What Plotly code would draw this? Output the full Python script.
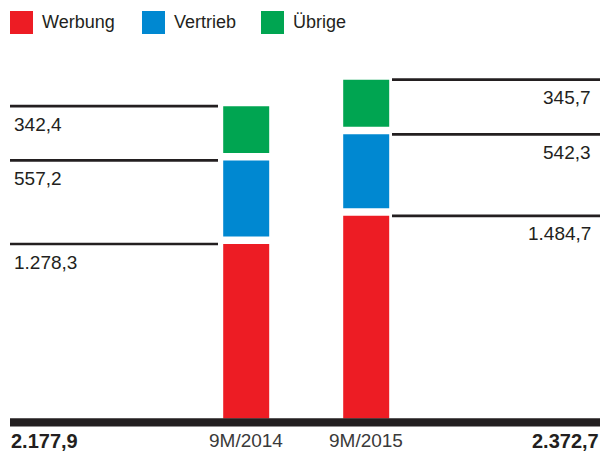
import plotly.graph_objects as go

# ---- data ----
categories = ["9M/2014", "9M/2015"]
series_names = ["Werbung", "Vertrieb", "Übrige"]
werbung = [1278.3, 1484.7]
vertrieb = [557.2, 542.3]
uebrige = [342.4, 345.7]

# ---- styles ----
colors = ["#ed1c24", "#0088d1", "#00a551"]
ink = "#231f20"
FONT = "Liberation Sans"
W, H = 604, 452
BASE_PX = 418.5      # pixel row of value 0
SCALE = 0.1365       # px per unit
GAP_PX = 7.5         # white gap between stacked segments
CAT0_PX, CAT_STEP = 246.2, 120.0
BAR_PX = 46.0

gap = GAP_PX / SCALE
y_range = [(BASE_PX - H) / SCALE, BASE_PX / SCALE]
x_range = [-CAT0_PX / CAT_STEP, (W - CAT0_PX) / CAT_STEP]


def de(v):
    s = f"{v:,.1f}"
    return s.replace(",", "X").replace(".", ",").replace("X", ".")


series = [werbung, vertrieb, uebrige]
fig = go.Figure()
tops = []
for i, (vals, name, col) in enumerate(zip(series, series_names, colors)):
    base = [sum(series[k][j] for k in range(i)) + i * gap for j in range(len(categories))]
    tops.append([b + v for b, v in zip(base, vals)])
    fig.add_trace(go.Bar(x=categories, y=vals, base=base, name=name,
                         width=BAR_PX / CAT_STEP,
                         marker=dict(color=col, line=dict(width=0)),
                         showlegend=False, hoverinfo="skip"))

shapes = []
annotations = []

# value lines and labels
line_x = [(10 / W, 218 / W), (392 / W, 600 / W)]
label_x = [(12 / W, "left"), (593 / W, "right")]
for i, vals in enumerate(series):
    for j in range(len(categories)):
        t = tops[i][j]
        shapes.append(dict(type="line", xref="paper", yref="y",
                           x0=line_x[j][0], x1=line_x[j][1], y0=t, y1=t,
                           line=dict(color=ink, width=2.7)))
        annotations.append(dict(xref="paper", yref="y", x=label_x[j][0], y=t,
                                xanchor=label_x[j][1], yanchor="middle", yshift=-18,
                                text=de(vals[j]), showarrow=False,
                                font=dict(family=FONT, size=19, color=ink)))

# baseline
shapes.append(dict(type="rect", xref="paper", yref="y", x0=10 / W, x1=600 / W,
                   y0=(BASE_PX - 418.3) / SCALE, y1=(BASE_PX - 426.5) / SCALE,
                   fillcolor=ink, line=dict(width=0)))

# category labels
ylab = 1 - 440.5 / H
for j, c in enumerate(categories):
    annotations.append(dict(xref="x", yref="paper", x=j, y=ylab, xanchor="center",
                            yanchor="middle", text=c, showarrow=False, borderpad=0,
                            font=dict(family=FONT, size=19, color="#3a3a3a")))

# totals
totals = [sum(s[j] for s in series) for j in range(len(categories))]
annotations.append(dict(xref="paper", yref="paper", x=10 / W, y=ylab, xanchor="left",
                        yanchor="middle", text="<b>" + de(totals[0]) + "</b>", showarrow=False,
                        borderpad=0, font=dict(family=FONT, size=20, color=ink)))
annotations.append(dict(xref="paper", yref="paper", x=600 / W, y=ylab, xanchor="right",
                        yanchor="middle", text="<b>" + de(totals[1]) + "</b>", showarrow=False,
                        borderpad=0, font=dict(family=FONT, size=20, color=ink)))

# legend
leg_x = [10, 142, 261]
for name, col, lx in zip(series_names, colors, leg_x):
    shapes.append(dict(type="rect", xref="paper", yref="paper",
                       x0=lx / W, x1=(lx + 23) / W, y0=1 - 34 / H, y1=1 - 11 / H,
                       fillcolor=col, line=dict(width=0)))
    annotations.append(dict(xref="paper", yref="paper", x=(lx + 30) / W, y=1 - 22.5 / H,
                            xanchor="left", yanchor="middle", text=name, showarrow=False,
                            font=dict(family=FONT, size=18, color=ink)))

fig.update_layout(
    width=W, height=H,
    margin=dict(l=0, r=0, t=0, b=0),
    paper_bgcolor="white", plot_bgcolor="white",
    barmode="overlay",
    xaxis=dict(range=x_range, visible=False, type="category"),
    yaxis=dict(range=y_range, visible=False),
    shapes=shapes, annotations=annotations,
)

fig.write_html("out.html")
